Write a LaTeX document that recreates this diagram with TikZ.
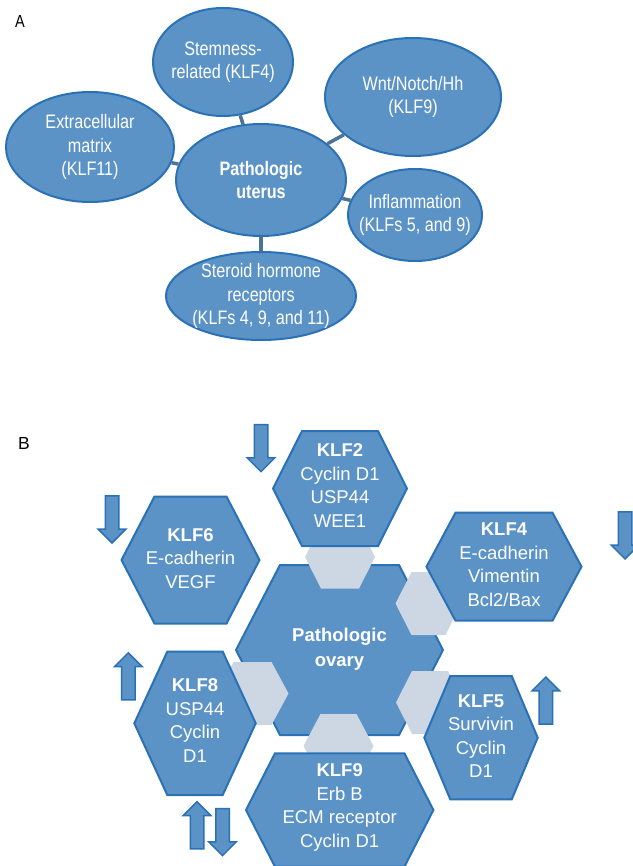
\documentclass[tikz,border=0pt]{standalone}
\usepackage{fontspec}
\setmainfont{Liberation Sans}
\newfontfamily\condfont[FakeStretch=0.83]{Liberation Sans}
\usetikzlibrary{shapes}

\definecolor{bleu}{HTML}{5B93C7}
\definecolor{bleufonce}{HTML}{2A72B5}
\definecolor{grisbleu}{HTML}{CDD7E3}
\definecolor{trait}{HTML}{4A7396}

% hexagone : style, x, y, demi-largeur, demi-hauteur, retrait
\newcommand{\hexcell}[6]{%
  \path[#1] ({#2-#4},#3) -- ({#2-#4+#6},{#3-#5}) -- ({#2+#4-#6},{#3-#5})
    -- ({#2+#4},#3) -- ({#2+#4-#6},{#3+#5}) -- ({#2-#4+#6},{#3+#5}) -- cycle;}

\begin{document}
\begin{tikzpicture}[x=1pt,y=-1pt]
        % Définition des styles
        \tikzstyle{bulle} = [ellipse, draw=bleufonce, line width=2pt, fill=bleu, inner sep=0pt]
        \tikzstyle{etiquette} = [text=white, align=center, font=\condfont\fontsize{19.5}{23.3}\selectfont]
        \tikzstyle{lien} = [draw=trait, line width=3.5pt]
        \tikzstyle{hexbleu} = [draw=bleufonce, line width=2pt, fill=bleu]
        \tikzstyle{hexgris} = [fill=grisbleu]
        \tikzstyle{texte} = [text=white, align=center, font=\fontsize{18.5}{23.5}\selectfont]
        \tikzstyle{fleche} = [single arrow, draw=bleufonce, line width=1.5pt, fill=bleu, minimum height=47pt, minimum width=26pt, inner sep=6pt, single arrow head extend=7pt, anchor=tip]
        \tikzstyle{lettre} = [font=\fontsize{17.5}{20}\selectfont]

        \useasboundingbox (0,0) rectangle (632,866);

        % Partie A - utérus
        \node [lettre, font=\condfont\fontsize{17.5}{20}\selectfont] (lettreA) at (20,21) {A};
        \node [bulle, minimum width=140pt, minimum height=108pt, label={[etiquette]center:{Stemness-\\related (KLF4)}}] (souche) at (223,62) {};
        \node [bulle, minimum width=176pt, minimum height=118pt, label={[etiquette]center:{Wnt/Notch/Hh\\(KLF9)}}] (wnt) at (413,97) {};
        \node [bulle, minimum width=168pt, minimum height=110pt, label={[etiquette]center:{Extracellular\\matrix\\(KLF11)}}] (matrice) at (90,147) {};
        \node [bulle, minimum width=170pt, minimum height=112pt, label={[etiquette, font=\condfont\bfseries\fontsize{19.5}{23.3}\selectfont]center:{Pathologic\\uterus}}] (uterus) at (261,180) {};
        \node [bulle, minimum width=134pt, minimum height=92pt, label={[etiquette]center:{Inflammation\\(KLFs 5, and 9)}}] (inflam) at (415,215) {};
        \node [bulle, minimum width=190pt, minimum height=88pt, label={[etiquette]center:{Steroid hormone\\receptors\\(KLFs 4, 9, and 11)}}] (steroide) at (261,296) {};

        % Liaisons
        \draw [lien] (uterus) -- (souche);
        \draw [lien] (uterus) -- (wnt);
        \draw [lien] (uterus) -- (matrice);
        \draw [lien] (uterus) -- (inflam);
        \draw [lien] (uterus) -- (steroide);

        % Partie B - ovaire
        \node [lettre] (lettreB) at (24,443) {B};

        % Hexagone central puis raccords gris
        \hexcell{hexbleu}{339.5}{650}{103.5}{85}{44}
        \hexcell{hexgris}{340}{557}{35}{31.5}{16}
        \hexcell{hexgris}{428.5}{603.5}{33}{31.5}{16}
        \hexcell{hexgris}{252.5}{693.5}{36}{31.5}{17}
        \hexcell{hexgris}{338.5}{746}{35}{32}{17}
        \hexcell{hexgris}{430}{702.5}{34}{31.5}{16}

        % Hexagones des KLF
        \hexcell{hexbleu}{340}{488.5}{67}{57.5}{29}
        \hexcell{hexbleu}{190.5}{560}{69}{63.5}{33}
        \hexcell{hexbleu}{504}{566.7}{77.5}{54}{29}
        \hexcell{hexbleu}{195}{723.3}{60.7}{71.7}{33}
        \hexcell{hexbleu}{481}{737.7}{56.7}{61.7}{26}
        \hexcell{hexbleu}{339.7}{810}{93.7}{56.7}{29}

        % Textes
        \node [texte, font=\bfseries\fontsize{18.5}{24.5}\selectfont] (ovaire) at (339.5,649) {Pathologic\\ovary};
        \node [texte] (klf2) at (340,485.5) {\textbf{KLF2}\\Cyclin D1\\USP44\\WEE1};
        \node [texte] (klf6) at (190.5,558.5) {\textbf{KLF6}\\E-cadherin\\VEGF};
        \node [texte] (klf4) at (504,564.5) {\textbf{KLF4}\\E-cadherin\\Vimentin\\Bcl2/Bax};
        \node [texte] (klf8) at (195,720.5) {\textbf{KLF8}\\USP44\\Cyclin\\D1};
        \node [texte] (klf5) at (481,736) {\textbf{KLF5}\\Survivin\\Cyclin\\D1};
        \node [texte] (klf9) at (339.7,807.5) {\textbf{KLF9}\\Erb B\\ECM receptor\\Cyclin D1};

        % Flèches d'expression
        \node [fleche, rotate=-90] (basklf2) at (261,472.7) {};
        \node [fleche, rotate=-90] (basklf6) at (112,544) {};
        \node [fleche, rotate=-90] (basklf4) at (625,560) {};
        \node [fleche, rotate=90] (hautklf8) at (128.3,651.7) {};
        \node [fleche, rotate=90] (hautklf5) at (545.8,676) {};
        \node [fleche, rotate=90] (hautklf9) at (197,800.7) {};
        \node [fleche, rotate=-90] (basklf9) at (222.5,856.7) {};

    \end{tikzpicture}
\end{document}
